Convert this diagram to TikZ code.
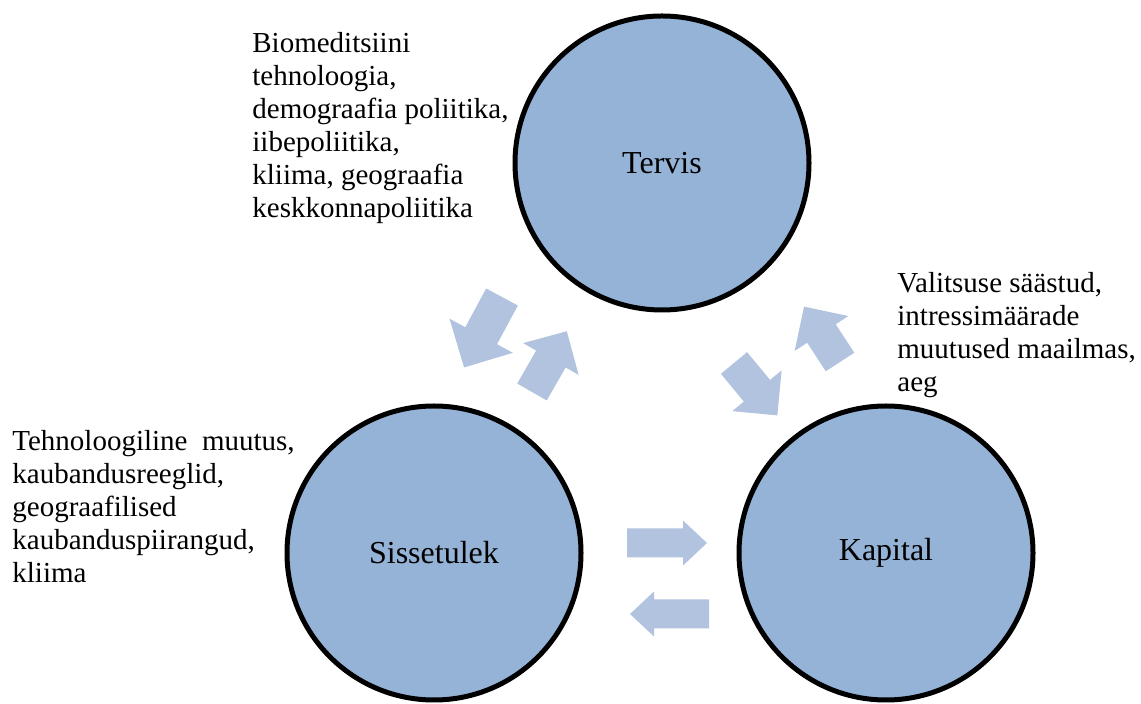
\documentclass[tikz,border=0pt]{standalone}
\usepackage{fontspec}
\setmainfont{Liberation Serif}
\usepackage{tikz}

\definecolor{circblue}{HTML}{95B3D7}
\definecolor{arrblue}{HTML}{B1C3DF}

\begin{document}
\begin{tikzpicture}[x=0.5pt, y=-0.5pt,
  circ/.style={circle, draw=black, line width=2.5pt, fill=circblue,
    minimum size=147pt, inner sep=0pt, font=\fontsize{16}{18}\selectfont},
  txt/.style={anchor=north west, inner sep=0pt, align=left,
    font=\fontsize{14.5}{16.5}\selectfont},
  pics/blockarrow/.style args={#1/#2/#3/#4}{code={
    \fill[arrblue] (0,-#3) -- ({#1-#2},-#3) -- ({#1-#2},-#4) -- (#1,0)
      -- ({#1-#2},#4) -- ({#1-#2},#3) -- (0,#3) -- cycle;}}]
  \useasboundingbox (0,0) rectangle (1141,704);
  % the three circles
  \node[circ] (tervis) at (662,163) {Tervis};
  \node[circ] (sisse) at (434,553) {Sissetulek};
  \node[circ] (kapital) at (886,553) {Kapital};
  % texts beside them
  \node[txt] (tervistxt) at (252,32) {Biomeditsiini\\tehnoloogia,\\demograafia poliitika,\\iibepoliitika,\\kliima, geograafia\\keskkonnapoliitika};
  \node[txt] (kapitaltxt) at (897,272) {Valitsuse säästud,\\intressimäärade\\muutused maailmas,\\aeg};
  \node[txt] (sissetxt) at (12,430) {Tehnoloogiline\ \ muutus,\\kaubandusreeglid,\\geograafilised\\kaubanduspiirangud,\\kliima};
  % block arrows
  \pic[rotate=-118.3] at (502,297) {blockarrow=80/36/18/36};
  \pic[rotate=60.2] at (532,392) {blockarrow=70/32/17/32};
  \pic[rotate=123] at (840,362) {blockarrow=66/32/17/32};
  \pic[rotate=-50.4] at (734,363) {blockarrow=68/32/17/32};
  \pic at (627,543) {blockarrow=80/24/14.5/22.5};
  \pic[rotate=180] at (709,614) {blockarrow=79/24/14.5/22.5};
\end{tikzpicture}
\end{document}
